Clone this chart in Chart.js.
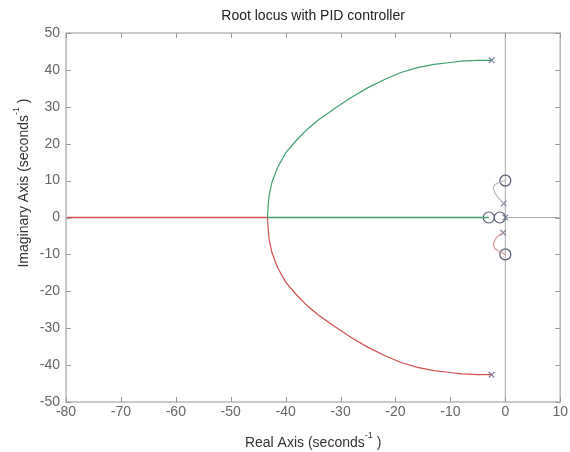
<!DOCTYPE html>
<html><head><meta charset="utf-8">
<script src="https://cdn.jsdelivr.net/npm/chart.js@4.4.1/dist/chart.umd.min.js"></script>
<style>html,body{margin:0;padding:0;background:#fff}#wrap{width:570px;height:452px}</style>
</head><body><div id="wrap"><canvas id="c" width="570" height="452"></canvas></div>
<script>
const titleText = "Root locus with PID controller";
const xTitle = ["Real Axis (seconds", "-1", " )"];
const yTitle = ["Imaginary Axis (seconds", "-1", " )"];
const xTicks = [-80,-70,-60,-50,-40,-30,-20,-10,0,10];
const yTicks = [-50,-40,-30,-20,-10,0,10,20,30,40,50];

// upper main branch (green)
const upperX = [-2.5,-5,-8,-10,-13,-16,-19,-22,-25,-28,-31,-34,-36,-38,-40,-41.5,-42.5,-43,-43.2,-43.3];
const upperY = [42.6,42.6,42.4,42.0,41.5,40.6,39.3,37.4,35.2,32.6,29.6,26.5,24.0,21.0,17.5,13.5,9.5,6.0,3.0,0];
// lower main branch (red)
const lowerX = [-2.5,-5,-8,-10,-13,-16,-19,-22,-25,-28,-31,-34,-36,-38,-40,-41.5,-42.5,-43,-43.2,-43.3];
const lowerY = [-42.6,-42.6,-42.4,-42.0,-41.5,-40.6,-39.3,-37.4,-35.2,-32.6,-29.6,-26.5,-24.0,-21.0,-17.5,-13.5,-9.5,-6.0,-3.0,0];
// real-axis segments
const realGreenX = [-43.3,-3];
const realRedX = [-43.3,-80];
// small branches near origin
const smallUpX = [-0.3,-0.8,-1.3,-1.9,-2.2,-2.0,-1.3,-0.5,0];
const smallUpY = [3.8,4.6,5.4,6.6,7.9,8.8,9.4,9.8,10];
const smallLowX = [-0.4,-1.0,-1.6,-2.0,-2.2,-1.9,-1.3,-0.5,0];
const smallLowY = [-4.1,-4.6,-5.4,-6.5,-7.6,-8.4,-9.0,-9.7,-10];
// poles and zeros
const polesX = [-2.5,-2.5,-0.3,-0.4,0];
const polesY = [42.6,-42.6,3.8,-4.1,0];
const zerosX = [0,0,-3,-1];
const zerosY = [10,-10,0,0];

const pts = (xs, ys) => xs.map((x,i)=>({x, y: ys[i]}));
const ptsY0 = xs => xs.map(x=>({x, y:0}));

const line = (data, color, w) => ({data, showLine:true, borderColor:color, borderWidth:w||1.2, pointRadius:0, fill:false, tension:0});

const frame = {
  id:'frame',
  beforeDatasetsDraw(chart){
    const {ctx, chartArea:a, scales:{x, y}} = chart;
    ctx.save();
    ctx.strokeStyle = '#aaa'; ctx.lineWidth = 1;
    const x0 = x.getPixelForValue(0);
    const y0 = y.getPixelForValue(0);
    ctx.beginPath(); ctx.moveTo(x0, a.top); ctx.lineTo(x0, a.bottom); ctx.stroke();
    ctx.beginPath(); ctx.moveTo(x0, y0); ctx.lineTo(a.right, y0); ctx.stroke();
    ctx.restore();
  },
  afterDraw(chart){
    const {ctx, chartArea:a, scales:{x, y}} = chart;
    ctx.save();
    ctx.strokeStyle = '#b8b8b8'; ctx.lineWidth = 1.5;
    ctx.strokeRect(a.left, a.top, a.right-a.left, a.bottom-a.top);
    ctx.strokeStyle = '#999'; ctx.lineWidth = 1;
    xTicks.forEach(v=>{
      const px = Math.round(x.getPixelForValue(v))+0.5;
      ctx.beginPath(); ctx.moveTo(px,a.bottom); ctx.lineTo(px,a.bottom-5); ctx.stroke();
      ctx.beginPath(); ctx.moveTo(px,a.top); ctx.lineTo(px,a.top+5); ctx.stroke();
    });
    yTicks.forEach(v=>{
      const py = Math.round(y.getPixelForValue(v))+0.5;
      ctx.beginPath(); ctx.moveTo(a.left,py); ctx.lineTo(a.left+5,py); ctx.stroke();
      ctx.beginPath(); ctx.moveTo(a.right,py); ctx.lineTo(a.right-5,py); ctx.stroke();
    });
    // title
    ctx.fillStyle = '#222';
    ctx.font = '14px "Liberation Sans", Arial, sans-serif';
    ctx.textAlign = 'center'; ctx.textBaseline = 'middle';
    ctx.fillText(titleText, (a.left+a.right)/2, 16);
    // axis titles with superscript
    const drawSup = (parts, cx, cy) => {
      ctx.font = '14px "Liberation Sans", Arial, sans-serif';
      const w1 = ctx.measureText(parts[0]).width;
      const w3 = ctx.measureText(parts[2]).width;
      ctx.font = '9px "Liberation Sans", Arial, sans-serif';
      const w2 = ctx.measureText(parts[1]).width;
      const total = w1+w2+w3;
      let sx = cx - total/2;
      ctx.textAlign = 'left'; ctx.textBaseline = 'middle';
      ctx.fillStyle = '#333';
      ctx.font = '14px "Liberation Sans", Arial, sans-serif';
      ctx.fillText(parts[0], sx, cy); sx += w1;
      ctx.font = '9px "Liberation Sans", Arial, sans-serif';
      ctx.fillText(parts[1], sx, cy-7); sx += w2;
      ctx.font = '14px "Liberation Sans", Arial, sans-serif';
      ctx.fillText(parts[2], sx, cy);
    };
    drawSup(xTitle, (a.left+a.right)/2, 443);
    ctx.save();
    ctx.translate(24, 183);
    ctx.rotate(-Math.PI/2);
    drawSup(yTitle, 0, 0);
    ctx.restore();
    ctx.restore();
  }
};

new Chart(document.getElementById('c'), {
  type:'scatter',
  data:{datasets:[
    line(ptsY0(realRedX), '#d05050', 1.3),
    line(ptsY0(realGreenX), '#40a070', 1.3),
    line(pts(upperX, upperY), '#40a070'),
    line(pts(lowerX, lowerY), '#d05050'),
    line(pts(smallUpX, smallUpY), '#b8bcb8'),
    line(pts(smallLowX, smallLowY), '#d49a9a'),
    {data: pts(polesX, polesY), pointStyle:'crossRot', pointRadius:4, borderColor:'#7a82a0', borderWidth:1.2, backgroundColor:'transparent', showLine:false},
    {data: pts(zerosX, zerosY), pointStyle:'circle', pointRadius:5.5, borderColor:'#555a70', borderWidth:1.2, backgroundColor:'transparent', showLine:false}
  ]},
  options:{
    responsive:false, animation:false,
    layout:{padding:{top:33, right:8, left:0, bottom:0}},
    plugins:{legend:{display:false}, tooltip:{enabled:false}, title:{display:false}},
    scales:{
      x:{type:'linear', min:-80, max:10,
        afterBuildTicks(s){ s.ticks = xTicks.map(v=>({value:v})); },
        afterFit(s){ s.height = 50; },
        grid:{display:false, drawTicks:false, tickLength:0}, border:{display:false},
        ticks:{color:'#666', font:{size:14, family:'"Liberation Sans", Arial, sans-serif'}, padding:2, maxRotation:0, autoSkip:false}},
      y:{type:'linear', min:-50, max:50,
        afterBuildTicks(s){ s.ticks = yTicks.map(v=>({value:v})); },
        afterFit(s){ s.width = 66; },
        grid:{display:false, drawTicks:false, tickLength:0}, border:{display:false},
        ticks:{color:'#666', font:{size:14, family:'"Liberation Sans", Arial, sans-serif'}, padding:6, autoSkip:false}}
    }
  },
  plugins:[frame]
});
</script></body></html>
